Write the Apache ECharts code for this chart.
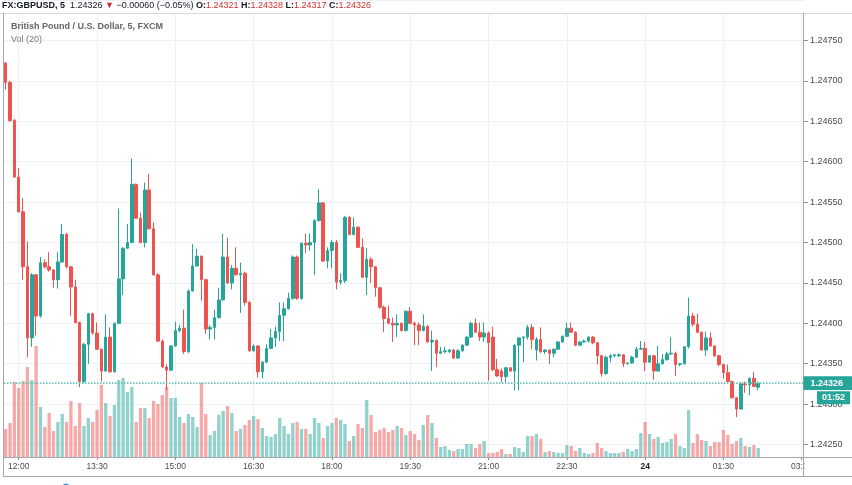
<!DOCTYPE html>
<html><head><meta charset="utf-8">
<script src="https://cdn.jsdelivr.net/npm/echarts@6/dist/echarts.min.js"></script>
<style>html,body{margin:0;padding:0;background:#fff}#c{width:852px;height:485px}</style>
</head><body><div id="c"></div>
<script>
// ---------- DATA ----------
const startTime = '11:45';   // first 5-minute bar
const barCount = 184;        // slots on the time axis (incl. empty future slots)
const xTickTimes = ['12:00','13:30','15:00','16:30','18:00','19:30','21:00','22:30','00:00','01:30','03:00'];
const xTickText  = ['12:00','13:30','15:00','16:30','18:00','19:30','21:00','22:30','24','01:30','03:00'];
const priceMin = 1.2420, priceMax = 1.2480, priceStep = 0.0005;

const opens = [1.24722,1.24698,1.24651,1.24581,1.24538,1.24470,1.24382,1.24460,1.24409,1.24475,
1.24470,1.24466,1.24454,1.24476,1.24510,1.24470,1.24445,1.24401,1.24328,1.24374,
1.24412,1.24388,1.24368,1.24341,1.24383,1.24340,1.24400,1.24455,1.24493,1.24500,
1.24572,1.24530,1.24500,1.24565,1.24517,1.24460,1.24378,1.24346,1.24342,1.24372,
1.24391,1.24394,1.24365,1.24440,1.24471,1.24483,1.24454,1.24393,1.24395,1.24407,
1.24429,1.24482,1.24450,1.24468,1.24460,1.24462,1.24426,1.24366,1.24372,1.24340,
1.24352,1.24369,1.24382,1.24390,1.24410,1.24418,1.24431,1.24482,1.24431,1.24499,
1.24497,1.24500,1.24527,1.24549,1.24477,1.24490,1.24500,1.24451,1.24453,1.24531,
1.24510,1.24519,1.24494,1.24457,1.24479,1.24470,1.24444,1.24420,1.24406,1.24400,
1.24398,1.24400,1.24391,1.24415,1.24400,1.24398,1.24391,1.24396,1.24377,1.24379,
1.24363,1.24365,1.24365,1.24367,1.24357,1.24366,1.24373,1.24383,1.24400,1.24389,
1.24383,1.24388,1.24383,1.24343,1.24341,1.24334,1.24345,1.24341,1.24373,1.24382,
1.24383,1.24395,1.24367,1.24380,1.24365,1.24367,1.24363,1.24368,1.24377,1.24384,
1.24394,1.24389,1.24373,1.24377,1.24378,1.24383,1.24376,1.24360,1.24338,1.24358,
1.24360,1.24360,1.24361,1.24350,1.24351,1.24358,1.24368,1.24369,1.24352,1.24360,
1.24341,1.24350,1.24355,1.24362,1.24363,1.24349,1.24350,1.24371,1.24409,1.24399,
1.24389,1.24367,1.24382,1.24372,1.24360,1.24349,1.24339,1.24328,1.24308,1.24294,
1.24325,1.24324,1.24332,1.24321];

const highs = [1.24723,1.24700,1.24653,1.24592,1.24555,1.24501,1.24462,1.24461,1.24482,1.24479,
1.24488,1.24467,1.24488,1.24523,1.24512,1.24471,1.24454,1.24402,1.24376,1.24413,
1.24413,1.24401,1.24369,1.24411,1.24395,1.24401,1.24542,1.24494,1.24523,1.24604,
1.24573,1.24537,1.24574,1.24585,1.24525,1.24462,1.24380,1.24349,1.24373,1.24402,
1.24398,1.24417,1.24442,1.24498,1.24492,1.24484,1.24455,1.24398,1.24417,1.24444,
1.24511,1.24506,1.24472,1.24494,1.24475,1.24464,1.24427,1.24374,1.24373,1.24353,
1.24374,1.24393,1.24396,1.24426,1.24426,1.24438,1.24484,1.24484,1.24500,1.24511,
1.24511,1.24529,1.24566,1.24550,1.24494,1.24503,1.24503,1.24462,1.24533,1.24533,
1.24531,1.24520,1.24505,1.24493,1.24482,1.24471,1.24445,1.24422,1.24422,1.24407,
1.24411,1.24401,1.24416,1.24420,1.24402,1.24401,1.24411,1.24398,1.24391,1.24380,
1.24371,1.24371,1.24368,1.24368,1.24368,1.24374,1.24384,1.24402,1.24406,1.24401,
1.24401,1.24390,1.24396,1.24356,1.24344,1.24346,1.24346,1.24374,1.24383,1.24384,
1.24398,1.24399,1.24383,1.24395,1.24368,1.24368,1.24369,1.24378,1.24385,1.24401,
1.24401,1.24390,1.24378,1.24380,1.24384,1.24384,1.24377,1.24361,1.24360,1.24362,
1.24362,1.24363,1.24362,1.24352,1.24360,1.24371,1.24378,1.24377,1.24361,1.24361,
1.24372,1.24362,1.24365,1.24383,1.24365,1.24351,1.24372,1.24432,1.24413,1.24412,
1.24390,1.24390,1.24389,1.24373,1.24361,1.24350,1.24349,1.24329,1.24309,1.24327,
1.24328,1.24333,1.24340,1.24328];

const lows = [1.24689,1.24649,1.24580,1.24537,1.24454,1.24358,1.24371,1.24385,1.24407,1.24468,
1.24464,1.24444,1.24443,1.24475,1.24468,1.24409,1.24400,1.24321,1.24326,1.24350,
1.24386,1.24367,1.24328,1.24340,1.24339,1.24339,1.24399,1.24435,1.24492,1.24499,
1.24529,1.24499,1.24494,1.24516,1.24459,1.24377,1.24345,1.24317,1.24341,1.24371,
1.24389,1.24362,1.24363,1.24439,1.24470,1.24428,1.24387,1.24380,1.24380,1.24406,
1.24428,1.24449,1.24442,1.24459,1.24413,1.24422,1.24365,1.24365,1.24333,1.24332,
1.24351,1.24368,1.24371,1.24378,1.24378,1.24417,1.24429,1.24429,1.24429,1.24487,
1.24490,1.24460,1.24526,1.24476,1.24468,1.24468,1.24442,1.24448,1.24450,1.24509,
1.24509,1.24493,1.24456,1.24435,1.24450,1.24433,1.24418,1.24389,1.24399,1.24377,
1.24383,1.24390,1.24390,1.24399,1.24373,1.24373,1.24390,1.24376,1.24341,1.24346,
1.24362,1.24363,1.24363,1.24356,1.24356,1.24365,1.24372,1.24382,1.24388,1.24378,
1.24377,1.24329,1.24341,1.24334,1.24327,1.24327,1.24340,1.24317,1.24317,1.24352,
1.24380,1.24368,1.24354,1.24363,1.24362,1.24350,1.24358,1.24367,1.24376,1.24383,
1.24388,1.24372,1.24372,1.24376,1.24376,1.24374,1.24349,1.24334,1.24336,1.24352,
1.24358,1.24358,1.24346,1.24349,1.24350,1.24357,1.24367,1.24341,1.24351,1.24330,
1.24340,1.24349,1.24354,1.24361,1.24335,1.24347,1.24349,1.24369,1.24396,1.24388,
1.24366,1.24360,1.24371,1.24358,1.24347,1.24332,1.24327,1.24307,1.24284,1.24293,
1.24314,1.24311,1.24321,1.24317];

const closes = [1.24698,1.24651,1.24581,1.24538,1.24470,1.24382,1.24460,1.24409,1.24475,1.24470,
1.24466,1.24454,1.24476,1.24510,1.24470,1.24445,1.24401,1.24328,1.24374,1.24412,
1.24388,1.24368,1.24341,1.24383,1.24340,1.24400,1.24455,1.24493,1.24500,1.24572,
1.24530,1.24500,1.24565,1.24517,1.24460,1.24378,1.24346,1.24342,1.24372,1.24391,
1.24394,1.24365,1.24440,1.24471,1.24483,1.24454,1.24393,1.24395,1.24407,1.24429,
1.24482,1.24450,1.24468,1.24460,1.24462,1.24426,1.24366,1.24372,1.24340,1.24352,
1.24369,1.24382,1.24390,1.24410,1.24418,1.24431,1.24482,1.24431,1.24499,1.24497,
1.24500,1.24527,1.24549,1.24477,1.24490,1.24500,1.24451,1.24453,1.24531,1.24510,
1.24519,1.24494,1.24457,1.24479,1.24470,1.24444,1.24420,1.24406,1.24400,1.24398,
1.24400,1.24391,1.24415,1.24400,1.24398,1.24391,1.24396,1.24377,1.24379,1.24363,
1.24365,1.24366,1.24367,1.24357,1.24366,1.24373,1.24383,1.24400,1.24389,1.24383,
1.24388,1.24376,1.24343,1.24335,1.24334,1.24345,1.24341,1.24373,1.24382,1.24383,
1.24395,1.24380,1.24380,1.24365,1.24367,1.24363,1.24368,1.24377,1.24384,1.24394,
1.24389,1.24373,1.24377,1.24378,1.24383,1.24376,1.24360,1.24338,1.24358,1.24360,
1.24361,1.24361,1.24350,1.24351,1.24358,1.24368,1.24369,1.24352,1.24360,1.24341,
1.24350,1.24355,1.24362,1.24363,1.24349,1.24350,1.24371,1.24409,1.24399,1.24389,
1.24367,1.24382,1.24372,1.24360,1.24349,1.24339,1.24328,1.24308,1.24294,1.24325,
1.24324,1.24332,1.24322,1.24326];

const volumes = [280,340,750,690,760,900,770,1110,500,300,
440,260,350,430,350,560,310,540,310,390,
350,470,720,540,410,520,770,790,650,700,
350,490,490,390,560,530,620,700,590,590,
400,340,430,400,300,740,430,220,260,420,
460,510,440,260,280,320,370,410,380,290,
210,200,230,390,310,230,340,350,280,280,
230,390,340,190,310,340,390,370,330,160,
210,330,290,570,420,250,270,290,250,270,
310,290,220,260,230,170,320,420,340,190,
100,110,70,60,80,80,130,130,90,130,
160,40,40,50,80,30,30,100,90,50,
210,210,230,180,50,60,50,40,40,120,
110,60,90,40,30,40,140,90,60,40,
40,40,50,80,60,80,240,350,230,180,
200,140,150,180,230,110,90,470,140,230,
170,160,110,150,150,270,220,130,160,190,
110,100,120,90];
const volumeAxisMax = 4440;
const countdownText = '01:52';

// ---------- BUILD ----------
const FONT = '"Liberation Sans", Arial, sans-serif';
const UP = '#26a69a', DOWN = '#ef5350';
const GRIDC = '#eef1f6', FRAME = '#a5a8b0', TXT = '#4a4a4a';
const FS = 9;

const times = [];
(function(){ let [h,m] = startTime.split(':').map(Number);
  for (let i=0;i<barCount;i++){ times.push(String(h).padStart(2,'0')+':'+String(m).padStart(2,'0'));
    m+=5; if(m>=60){m-=60;h=(h+1)%24;} } })();

const candleData = opens.map((o,i)=>[o, closes[i], lows[i], highs[i]]);
const volData = volumes.map((v,i)=>({value:v, itemStyle:{color: closes[i]>=opens[i] ? 'rgba(38,166,154,0.5)' : 'rgba(239,83,80,0.5)'}}));
const lastClose = closes[closes.length-1];
const showTick = (idx, val) => xTickTimes.indexOf(val) >= 0;

const chart = echarts.init(document.getElementById('c'), null, {renderer:'canvas'});
chart.setOption({
  animation:false,
  backgroundColor:'#ffffff',
  grid:[
    {left:3.5, width:800.4, top:-3.2, height:490.8},
    {left:3.5, width:800.4, top:13, height:444}
  ],
  xAxis:[
    {type:'category', gridIndex:0, data:times, boundaryGap:true, show:false},
    {type:'category', gridIndex:1, data:times, boundaryGap:true,
     axisLine:{show:false},
     axisTick:{show:true, interval:showTick, alignWithLabel:true, length:3, lineStyle:{color:'#8a8d96'}},
     axisLabel:{interval:showTick, margin:5, color:TXT, fontSize:8.5, fontFamily:FONT,
       formatter: v => { const t = xTickText[xTickTimes.indexOf(v)]; return t==='24' ? '{b|24}' : t; },
       rich:{b:{fontWeight:'bold', fontSize:8.5, fontFamily:FONT, color:'#222'}}},
     splitLine:{show:true, interval:showTick, alignWithLabel:true, lineStyle:{color:GRIDC, width:1}}}
  ],
  yAxis:[
    {type:'value', gridIndex:0, position:'right', min:priceMin, max:priceMax, interval:priceStep,
     axisLine:{show:false},
     axisTick:{show:true, length:4, lineStyle:{color:'#8a8d96'}},
     axisLabel:{color:TXT, fontSize:FS, fontFamily:FONT, margin:6, showMinLabel:false, showMaxLabel:false,
       formatter: v => v.toFixed(5)},
     splitLine:{show:true, lineStyle:{color:GRIDC, width:1}}},
    {type:'value', gridIndex:1, position:'right', min:0, max:volumeAxisMax, show:false}
  ],
  series:[
    {type:'bar', name:'Vol', xAxisIndex:1, yAxisIndex:1, data:volData, barWidth:3.3, z:1, silent:true},
    {type:'candlestick', name:'GBPUSD', xAxisIndex:0, yAxisIndex:0, data:candleData, barWidth:3, z:3,
     itemStyle:{color:UP, color0:DOWN, borderColor:UP, borderColor0:DOWN, borderWidth:1}}
  ]
});

// current-price line and labels, positioned through the price axis scale
const yLast = chart.convertToPixel({yAxisIndex:0}, lastClose);
chart.setOption({
  graphic:[
    {type:'line', z:100, shape:{x1:0, y1:13.5, x2:852, y2:13.5}, style:{stroke:'#d6d8de', lineWidth:1}},
    {type:'line', z:100, shape:{x1:3.5, y1:13, x2:3.5, y2:477}, style:{stroke:FRAME, lineWidth:1}},
    {type:'line', z:100, shape:{x1:3.5, y1:457.5, x2:852, y2:457.5}, style:{stroke:FRAME, lineWidth:1}},
    {type:'line', z:100, shape:{x1:3.5, y1:476.5, x2:852, y2:476.5}, style:{stroke:FRAME, lineWidth:1}},
    {type:'rect', z:99, shape:{x:804.5, y:458.5, width:47.5, height:17.5}, style:{fill:'#fff'}},
    {type:'line', z:100, shape:{x1:803.5, y1:13, x2:803.5, y2:477}, style:{stroke:FRAME, lineWidth:1}},
    {type:'line', z:50, shape:{x1:4, y1:yLast, x2:803, y2:yLast},
      style:{stroke:'#6cc3b9', lineWidth:1.6, lineDash:[1.5,1.5]}},
    {type:'rect', z:101, shape:{x:803.5, y:yLast-6.8, width:48.5, height:13.6}, style:{fill:UP}},
    {type:'text', z:102, style:{x:810.5, y:yLast+0.5, verticalAlign:'middle', text:lastClose.toFixed(5),
      fontFamily:FONT, fontSize:FS, fontWeight:'bold', fill:'#fff'}},
    {type:'rect', z:101, shape:{x:817, y:yLast+8.2, width:33, height:12.8}, style:{fill:UP}},
    {type:'text', z:102, style:{x:833.5, y:yLast+14.8, align:'center', verticalAlign:'middle', text:countdownText,
      fontFamily:FONT, fontSize:FS, fontWeight:'bold', fill:'#fff'}},
    {type:'text', z:100, style:{x:2, y:5.5, verticalAlign:'middle', fontFamily:FONT, fontSize:FS,
      text:'{b|FX:GBPUSD, 5}  {n|1.24326} {r|▼} {n|−0.00060 (−0.05%)} {b|O:}{r|1.24321} {b|H:}{r|1.24328} {b|L:}{r|1.24317} {b|C:}{r|1.24326}',
      rich:{b:{fontWeight:'bold', fontSize:FS, fontFamily:FONT, fill:'#131722'},
            n:{fontSize:FS, fontFamily:FONT, fill:'#131722'},
            r:{fontSize:FS, fontFamily:FONT, fill:'#d32f2f'}}}},
    {type:'text', z:100, style:{x:11, y:27, verticalAlign:'middle', text:'British Pound / U.S. Dollar, 5, FXCM',
      fontFamily:FONT, fontSize:FS, fontWeight:'bold', fill:'#666'}},
    {type:'text', z:100, style:{x:11, y:40, verticalAlign:'middle', text:'Vol (20)',
      fontFamily:FONT, fontSize:FS, fill:'#777'}},
    {type:'circle', z:100, shape:{cx:66, cy:487, r:3.5}, style:{fill:'#2196f3'}}
  ]
});
</script></body></html>
